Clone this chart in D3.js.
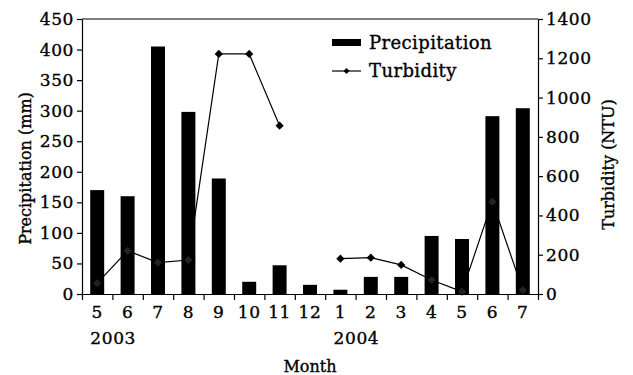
<!DOCTYPE html>
<html>
<head>
<meta charset="utf-8">
<script src="https://cdn.jsdelivr.net/npm/d3@7"></script>
<style>
body { margin: 0; background: #fff; }
text { font-family: "DejaVu Serif", "Liberation Serif", serif; fill: #000; stroke: #000; stroke-width: 0.35px; }
</style>
</head>
<body>
<div id="chart"></div>
<script>
// month labels, one per bar
var months = [5, 6, 7, 8, 9, 10, 11, 12, 1, 2, 3, 4, 5, 6, 7];
var years = [{label: "2003", at: 0}, {label: "2004", at: 8}];
var precipitation = [170, 160, 405, 298, 189, 20, 47, 15, 7, 28, 28, 95, 90, 291, 304];
var turbidity = [55, 220, 160, 173, 1222, 1222, 857, null, 180, 185, 148, 71, 12, 470, 20];
var precipTicks = [0, 50, 100, 150, 200, 250, 300, 350, 400, 450];
var turbTicks = [0, 200, 400, 600, 800, 1000, 1200, 1400];

var w = 633, h = 375;
var pLeft = 82, pRight = 538, pTop = 19, pBottom = 294;

var svg = d3.select("#chart").append("svg")
  .attr("width", w).attr("height", h);

var keys = months.map(function (m, i) { return i; });

var x = d3.scaleBand().domain(keys).range([pLeft, pRight])
  .paddingInner(0.54).paddingOuter(0.27);
var xEdge = d3.scaleLinear().domain([0, months.length]).range([pLeft, pRight]);
var yP = d3.scaleLinear().domain([0, 450]).range([pBottom, pTop]);
var yT = d3.scaleLinear().domain([0, 1400]).range([pBottom, pTop]);

function cx(i) { return x(i) + x.bandwidth() / 2; }

// frame top line
svg.append("line").attr("x1", pLeft).attr("x2", pRight)
  .attr("y1", pTop).attr("y2", pTop).attr("stroke", "#000").attr("stroke-width", 1.2);

// bars
svg.selectAll("rect.bar").data(precipitation).enter()
  .append("rect").attr("class", "bar")
  .attr("x", function (d, i) { return x(i); })
  .attr("width", x.bandwidth())
  .attr("y", function (d) { return yP(d); })
  .attr("height", function (d) { return pBottom - yP(d); })
  .attr("fill", "#000");

// turbidity line
var line = d3.line()
  .defined(function (d) { return d != null; })
  .x(function (d, i) { return cx(i); })
  .y(function (d) { return yT(d); });

svg.append("path").datum(turbidity)
  .attr("d", line)
  .attr("fill", "none").attr("stroke", "#000").attr("stroke-width", 1.2);

var diamond = d3.symbol().type(d3.symbolSquare).size(34);
svg.selectAll("path.mark").data(turbidity.map(function (d, i) { return {v: d, i: i}; })
    .filter(function (d) { return d.v != null; }))
  .enter().append("path").attr("class", "mark")
  .attr("d", diamond)
  .attr("transform", function (d) { return "translate(" + cx(d.i) + "," + yT(d.v) + ") rotate(45)"; })
  .attr("fill", function (d) { return yP(precipitation[d.i]) <= yT(d.v) ? "#222" : "#000"; });

// axes
function style(g) {
  g.selectAll("path.domain").attr("stroke", "#000").attr("stroke-width", 1.2);
  g.selectAll(".tick line").attr("stroke", "#000").attr("stroke-width", 1.2);
  g.selectAll("text").attr("font-size", 17).attr("letter-spacing", 0.6)
    .style("font-family", "'DejaVu Serif', serif").attr("fill", "#000");
}

svg.append("g").attr("transform", "translate(" + pLeft + ",0)")
  .call(d3.axisLeft(yP).tickValues(precipTicks).tickSize(5).tickSizeOuter(0).tickPadding(3))
  .call(style);

svg.append("g").attr("transform", "translate(" + pRight + ",0)")
  .call(d3.axisRight(yT).tickValues(turbTicks).tickFormat(d3.format("d"))
    .tickSize(5).tickSizeOuter(0).tickPadding(3))
  .call(style);

svg.append("g").attr("transform", "translate(0," + pBottom + ")")
  .call(d3.axisBottom(xEdge).ticks(months.length).tickFormat("").tickSize(6).tickSizeOuter(0))
  .call(style);

svg.append("g").attr("transform", "translate(0," + pBottom + ")")
  .call(d3.axisBottom(x).tickSize(0).tickPadding(12)
    .tickFormat(function (i) { return months[i]; }))
  .call(style)
  .call(function (g) { g.select("path.domain").remove(); });

svg.selectAll("text.year").data(years).enter()
  .append("text").attr("class", "year")
  .attr("x", function (d) { return cx(d.at) + 16; })
  .attr("y", 344)
  .attr("text-anchor", "middle")
  .attr("font-size", 17).attr("letter-spacing", 0.6)
  .text(function (d) { return d.label; });

// axis titles
svg.append("text")
  .attr("transform", "translate(31," + ((pTop + pBottom) / 2 + 12) + ") rotate(-90)")
  .attr("text-anchor", "middle").attr("font-size", 16)
  .text("Precipitation (mm)");

svg.append("text")
  .attr("transform", "translate(614," + ((pTop + pBottom) / 2 + 8) + ") rotate(-90)")
  .attr("text-anchor", "middle").attr("font-size", 16)
  .text("Turbidity (NTU)");

svg.append("text")
  .attr("x", (pLeft + pRight) / 2).attr("y", 372)
  .attr("text-anchor", "middle").attr("font-size", 16)
  .text("Month");

// legend
var lg = svg.append("g");
lg.append("rect").attr("x", 332).attr("y", 39).attr("width", 29).attr("height", 7).attr("fill", "#000");
lg.append("text").attr("x", 369).attr("y", 49).attr("font-size", 18).attr("letter-spacing", 0.4).text("Precipitation");
lg.append("line").attr("x1", 332).attr("x2", 361).attr("y1", 71).attr("y2", 71)
  .attr("stroke", "#000").attr("stroke-width", 1.2);
lg.append("path").attr("d", d3.symbol().type(d3.symbolSquare).size(18))
  .attr("transform", "translate(346.5,71) rotate(45)").attr("fill", "#000");
lg.append("text").attr("x", 369).attr("y", 77).attr("font-size", 18).attr("letter-spacing", 0.4).text("Turbidity");
</script>
</body>
</html>
